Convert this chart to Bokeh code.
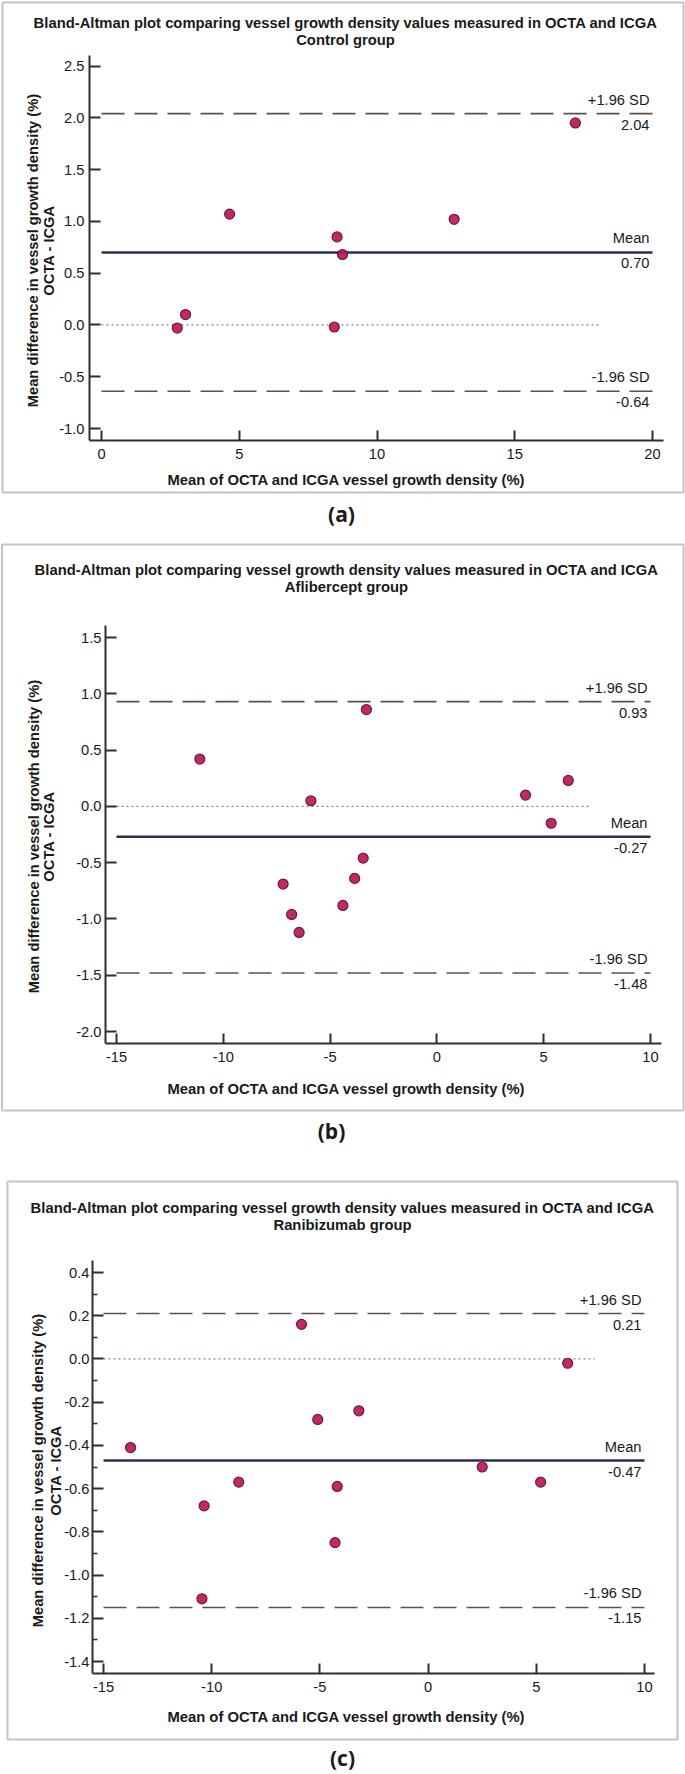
import math
from bokeh.plotting import figure
from bokeh.models import Range1d, Label, BoxAnnotation, FixedTicker
from bokeh.layouts import column
from bokeh.embed import file_html
from bokeh.resources import INLINE

# ---------------- texts ----------------
TITLE = "Bland-Altman plot comparing vessel growth density values measured in OCTA and ICGA"
Y_TITLE_1 = "Mean difference in vessel growth density (%)"
Y_TITLE_2 = "OCTA - ICGA"
X_TITLE = "Mean of OCTA and ICGA vessel growth density (%)"
line_names = ["+1.96 SD", "Mean", "-1.96 SD"]

# ---------------- (a) Control group ----------------
a_group = "Control group"
a_tag = "(a)"
a_x = [4.65, 8.55, 8.75, 12.8, 17.2, 3.05, 2.75, 8.45]
a_y = [1.07, 0.85, 0.68, 1.02, 1.95, 0.10, -0.03, -0.02]
a_stats = [2.04, 0.70, -0.64]
a_stat_labels = ["2.04", "0.70", "-0.64"]
a_line_span = [0, 20]
a_zero_span = [0, 18.1]
a_xticks = [0, 5, 10, 15, 20]
a_xtick_labels = ["0", "5", "10", "15", "20"]
a_yticks = [-1.0, -0.5, 0.0, 0.5, 1.0, 1.5, 2.0, 2.5]
a_ytick_labels = ["-1.0", "-0.5", "0.0", "0.5", "1.0", "1.5", "2.0", "2.5"]
a_yminor = []

# ---------------- (b) Aflibercept group ----------------
b_group = "Aflibercept group"
b_tag = "(b)"
b_x = [-11.1, -3.3, -5.9, 4.15, 6.15, 5.35, -3.45, -3.85, -7.2, -4.4, -6.8, -6.45]
b_y = [0.42, 0.86, 0.05, 0.10, 0.23, -0.15, -0.46, -0.64, -0.69, -0.88, -0.96, -1.12]
b_stats = [0.93, -0.27, -1.48]
b_stat_labels = ["0.93", "-0.27", "-1.48"]
b_line_span = [-15, 10]
b_zero_span = [-15, 7.2]
b_xticks = [-15, -10, -5, 0, 5, 10]
b_xtick_labels = ["-15", "-10", "-5", "0", "5", "10"]
b_yticks = [-2.0, -1.5, -1.0, -0.5, 0.0, 0.5, 1.0, 1.5]
b_ytick_labels = ["-2.0", "-1.5", "-1.0", "-0.5", "0.0", "0.5", "1.0", "1.5"]
b_yminor = []

# ---------------- (c) Ranibizumab group ----------------
c_group = "Ranibizumab group"
c_tag = "(c)"
c_x = [-5.85, 6.45, -5.1, -3.2, -13.75, 2.5, 5.2, -8.75, -4.2, -10.35, -4.3, -10.45]
c_y = [0.16, -0.02, -0.28, -0.24, -0.41, -0.50, -0.57, -0.57, -0.59, -0.68, -0.85, -1.11]
c_stats = [0.21, -0.47, -1.15]
c_stat_labels = ["0.21", "-0.47", "-1.15"]
c_line_span = [-15, 10]
c_zero_span = [-15, 7.7]
c_xticks = [-15, -10, -5, 0, 5, 10]
c_xtick_labels = ["-15", "-10", "-5", "0", "5", "10"]
c_yticks = [-1.4, -1.2, -1.0, -0.8, -0.6, -0.4, -0.2, 0.0, 0.2, 0.4]
c_ytick_labels = ["-1.4", "-1.2", "-1.0", "-0.8", "-0.6", "-0.4", "-0.2", "0.0", "0.2", "0.4"]
c_yminor = [-1.3, -1.1, -0.9, -0.7, -0.5, -0.3, -0.1, 0.1, 0.3]

FONT = "Liberation Sans"
TXT = "#1a1a1a"
AX = "#2e2e2e"
W = 685


def make_panel(group, tag, xs, ys, stats, stat_labels, line_span, zero_span,
               xticks, xtick_labels, yticks, ytick_labels, yminor, g):
    H = g["h"]
    # pixel layout: first/last x tick and first/last y tick pixel positions
    kx = (g["xt_px"][1] - g["xt_px"][0]) / (xticks[-1] - xticks[0])
    ky = (g["yt_px"][0] - g["yt_px"][1]) / (yticks[-1] - yticks[0])

    def px_x(cx):  # canvas pixel -> data x
        return xticks[0] + (cx - g["xt_px"][0]) / kx

    def px_y(cy):  # canvas pixel (from top) -> data y
        return yticks[0] + (g["yt_px"][0] - cy) / ky

    p = figure(width=W, height=H,
               x_range=Range1d(px_x(0), px_x(W)), y_range=Range1d(px_y(H), px_y(0)),
               output_backend="svg", toolbar_location=None,
               min_border_left=0, min_border_top=0, min_border_right=0, min_border_bottom=0)
    p.xgrid.visible = False
    p.ygrid.visible = False
    p.outline_line_color = None
    p.background_fill_color = "white"
    p.border_fill_color = "white"

    # axes, drawn at the reference positions
    x_axis_y = px_y(g["ax_y"])
    y_axis_x = px_x(g["ax_x"])
    p.xaxis.fixed_location = x_axis_y
    p.yaxis.fixed_location = y_axis_x
    p.xaxis.bounds = (y_axis_x, px_x(g["ax_right"]))
    p.yaxis.bounds = (x_axis_y, px_y(g["ax_top"]))
    p.xaxis.ticker = FixedTicker(ticks=xticks)
    p.xaxis.major_label_overrides = {t: s for t, s in zip(xticks, xtick_labels)}
    p.yaxis.ticker = FixedTicker(ticks=yticks, minor_ticks=yminor)
    p.yaxis.major_label_overrides = {t: s for t, s in zip(yticks, ytick_labels)}
    for ax in (p.xaxis[0], p.yaxis[0]):
        ax.axis_line_width = 2
        ax.axis_line_color = AX
        ax.major_tick_line_width = 2
        ax.major_tick_line_color = AX
        ax.major_tick_out = 0
        ax.minor_tick_out = 0
        ax.major_label_text_font = FONT
        ax.major_label_text_font_size = "14.7px"
        ax.major_label_text_color = TXT
    p.xaxis.major_tick_in = 10
    p.yaxis.major_tick_in = 11
    p.xaxis.minor_tick_line_color = None
    p.xaxis.major_label_standoff = 8
    p.yaxis.major_label_standoff = g["ystand"]
    if yminor:
        p.yaxis.minor_tick_in = 5
        p.yaxis.minor_tick_line_width = 1.5
        p.yaxis.minor_tick_line_color = AX
    else:
        p.yaxis.minor_tick_line_color = None

    # reference lines and points
    p.line(zero_span, [0, 0], line_color="#4f7a66", line_width=1, line_dash="2 3")
    p.line(line_span, [stats[0], stats[0]], line_color="#5e4f4f", line_width=1.6, line_dash="23 10")
    p.line(line_span, [stats[2], stats[2]], line_color="#5e4f4f", line_width=1.6, line_dash="23 10")
    p.line(line_span, [stats[1], stats[1]], line_color="#2b2d5a", line_width=2.5)
    p.scatter(xs, ys, size=10, marker="circle", fill_color="#c8124f",
              line_color="#5e1f50", line_width=1.2, fill_alpha=0.92)

    for name, val, lab in zip(line_names, stats, stat_labels):
        p.add_layout(Label(x=line_span[1], y=val, text=name, x_offset=-3, y_offset=14,
                           text_align="right", text_baseline="middle",
                           text_font=FONT, text_font_size="14.7px", text_color=TXT))
        p.add_layout(Label(x=line_span[1], y=val, text=lab, x_offset=-3, y_offset=-11,
                           text_align="right", text_baseline="middle",
                           text_font=FONT, text_font_size="14.7px", text_color=TXT))

    # panel frame box
    p.add_layout(BoxAnnotation(left=px_x(g["bl"]), right=px_x(g["br"]),
                               top=px_y(g["bt"]), bottom=px_y(g["bb"]),
                               fill_color=None, line_color="#3a3a3a", line_width=2))

    def clabel(cx, cy, text, size, angle=0.0, font=FONT):
        p.add_layout(Label(x=px_x(cx), y=px_y(cy), text=text,
                           angle=angle, text_align="center", text_baseline="middle",
                           text_font=font, text_font_size=size, text_font_style="bold",
                           text_color=TXT))

    clabel(g["tx"], g["t1"], TITLE, "14.8px")
    clabel(g["tx"], g["t2"], group, "14.8px")
    clabel(g["yl1"], g["yc"], Y_TITLE_1, "14.7px", angle=math.pi / 2)
    clabel(g["yl2"], g["yc"], Y_TITLE_2, "14.7px", angle=math.pi / 2)
    clabel(g["xlx"], g["xly"], X_TITLE, "14.8px")
    clabel(g["tagx"], g["tagy"], tag, "21px", font="Open Sans")
    return p


# pixel geometry of each panel (canvas pixels, y from the top of the panel)
ga = dict(h=534, xt_px=(101, 652), yt_px=(428, 65.5), ax_x=89, ax_y=440, ax_top=55, ax_right=663,
          ystand=5, bl=2, br=683, bt=2, bb=492, tx=345, t1=22, t2=39, yl1=32, yl2=48, yc=250,
          xlx=346, xly=479, tagx=341, tagy=513)
gb = dict(h=622, xt_px=(116, 650), yt_px=(497, 103), ax_x=105, ax_y=509, ax_top=91, ax_right=661,
          ystand=4, bl=1.5, br=683, bt=10, bb=576, tx=346, t1=35, t2=52, yl1=33, yl2=48, yc=302,
          xlx=346, xly=554, tagx=331, tagy=596)
# panel (c) starts 2 px higher on the page, so its inner positions are shifted by +2
gc = dict(h=618, xt_px=(103, 644), yt_px=(505, 116), ax_x=92, ax_y=517, ax_top=104, ax_right=654,
          ystand=3, bl=7, br=677, bt=25, bb=583, tx=342, t1=51, t2=68, yl1=37, yl2=55, yc=314,
          xlx=346, xly=560, tagx=342, tagy=601)

pa = make_panel(a_group, a_tag, a_x, a_y, a_stats, a_stat_labels, a_line_span, a_zero_span,
                a_xticks, a_xtick_labels, a_yticks, a_ytick_labels, a_yminor, ga)
pb = make_panel(b_group, b_tag, b_x, b_y, b_stats, b_stat_labels, b_line_span, b_zero_span,
                b_xticks, b_xtick_labels, b_yticks, b_ytick_labels, b_yminor, gb)
pc = make_panel(c_group, c_tag, c_x, c_y, c_stats, c_stat_labels, c_line_span, c_zero_span,
                c_xticks, c_xtick_labels, c_yticks, c_ytick_labels, c_yminor, gc)

layout = column(column(pa), column(pb), column(pc), spacing=0)
open("out.html", "w").write(file_html(layout, INLINE))
